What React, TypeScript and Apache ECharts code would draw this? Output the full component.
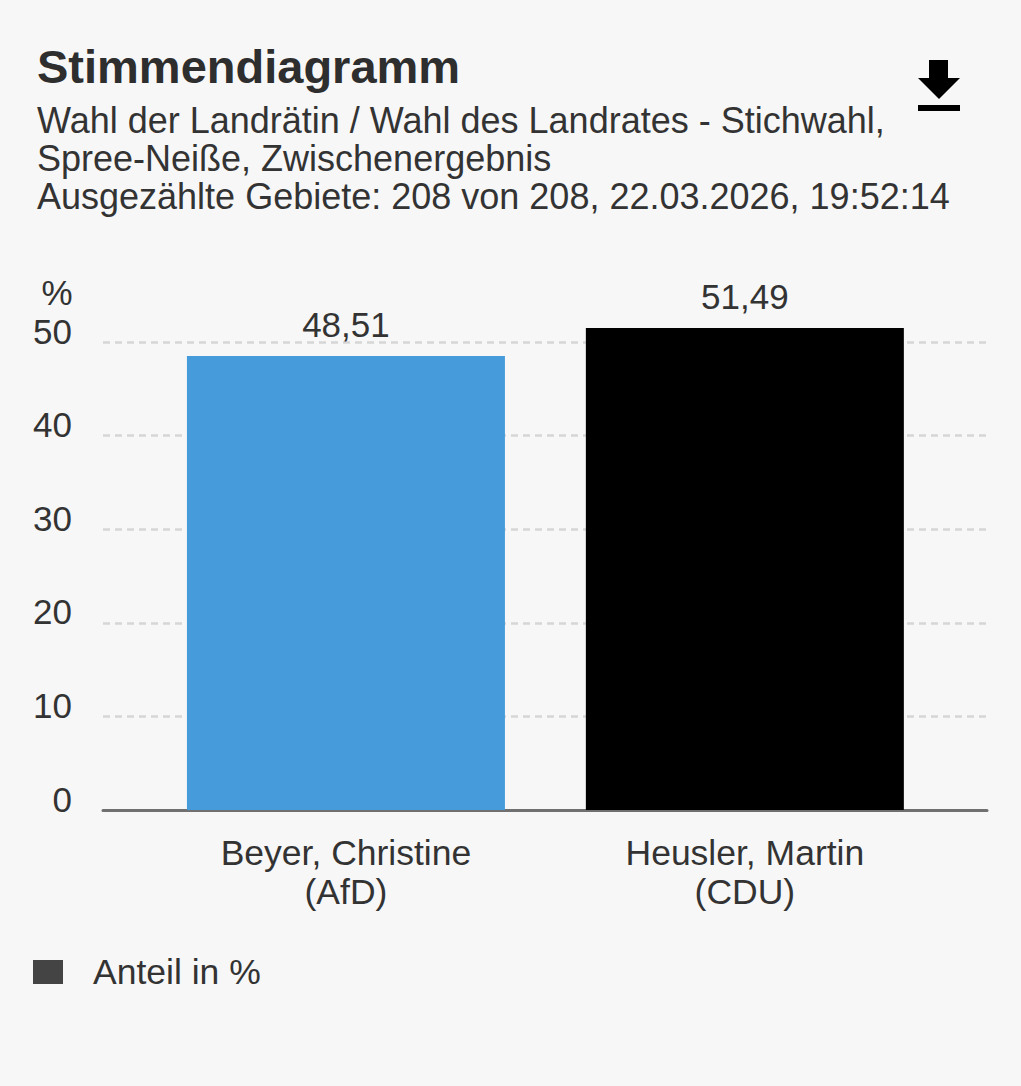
import React, { useEffect, useRef } from "react";
import * as echarts from "echarts";

const categories = ["Beyer, Christine\n(AfD)", "Heusler, Martin\n(CDU)"];
const shares = [48.51, 51.49];
const barColors = ["#469cda", "#000000"];
const yTicks = [0, 10, 20, 30, 40, 50];
const seriesName = "Anteil in %";
const titleText = "Stimmendiagramm";
const subtitleLines = [
  "Wahl der Landrätin / Wahl des Landrates - Stichwahl,",
  "Spree-Neiße, Zwischenergebnis",
  "Ausgezählte Gebiete: 208 von 208, 22.03.2026, 19:52:14",
];

const FONT = "'Liberation Sans', Arial, Helvetica, sans-serif";
const fmt = (v: number) => v.toFixed(2).replace(".", ",");

export default function App() {
  const ref = useRef<HTMLDivElement>(null);
  useEffect(() => {
    if (!ref.current) return;
    const chart = echarts.init(ref.current, null, { renderer: "svg" });
    const option: any = {
      animation: false,
      backgroundColor: "#f7f7f7",
      textStyle: { fontFamily: FONT },
      grid: { left: 103, right: 34, top: 342, bottom: 276, containLabel: false },
      legend: {
        left: 33,
        top: 954,
        padding: 0,
        itemWidth: 30,
        itemHeight: 24,
        icon: "rect",
        data: [seriesName],
        textStyle: { fontSize: 35.5, color: "#333", fontFamily: FONT, padding: [0, 0, 0, 25] },
        selectedMode: false,
      },
      xAxis: {
        type: "value",
        min: -0.609,
        max: 1.607,
        splitLine: { show: false },
        axisTick: { show: false },
        axisLine: { show: true, onZero: false, lineStyle: { color: "#707070", width: 3 } },
        axisLabel: {
          customValues: [0, 1],
          formatter: (v: number) => categories[Math.round(v)] ?? "",
          fontSize: 35.5,
          lineHeight: 39,
          color: "#333",
          margin: 23,
          fontFamily: FONT,
          align: "center",
        },
      },
      yAxis: {
        type: "value",
        min: 0,
        max: 50,
        interval: 10,
        axisLine: { show: false },
        axisTick: { show: false },
        axisLabel: {
          fontSize: 35,
          color: "#333",
          margin: 31,
          fontFamily: FONT,
          verticalAlign: "bottom",
          lineHeight: 22,
          formatter: (v: number) => (yTicks.includes(v) ? String(v) : ""),
        },
        splitLine: {
          show: true,
          lineStyle: { color: "#d6d6d6", width: 2.5, type: [7, 5] },
        },
      },
      series: [
        {
          name: seriesName,
          type: "bar",
          clip: false,
          barWidth: 318,
          itemStyle: { color: "#444444" },
          z: 1,
          data: shares.map((v, i) => ({
            value: [i, v],
            itemStyle: { color: barColors[i] },
          })),
          label: {
            show: true,
            position: "top",
            distance: 14,
            fontSize: 35,
            color: "#333",
            fontFamily: FONT,
            formatter: (p: any) => fmt(p.value[1]),
          },
        },
      ],
      graphic: [
        {
          type: "text",
          x: 37,
          y: 66,
          style: {
            text: titleText,
            font: `bold 47px ${FONT}`,
            fill: "#2e2e2e",
            textVerticalAlign: "middle",
          },
        },
        ...subtitleLines.map((t, i) => ({
          type: "text",
          x: 37,
          y: 120 + i * 38,
          style: {
            text: t,
            font: `36px ${FONT}`,
            fill: "#333",
            textVerticalAlign: "middle",
          },
        })),
        {
          type: "text",
          x: 57,
          y: 292,
          style: {
            text: "%",
            font: `35px ${FONT}`,
            fill: "#333",
            textAlign: "center",
            textVerticalAlign: "middle",
          },
        },
        {
          type: "polygon",
          shape: {
            points: [
              [929, 60],
              [948, 60],
              [948, 78],
              [960, 78],
              [939, 99],
              [918, 78],
              [929, 78],
            ],
          },
          style: { fill: "#000" },
        },
        {
          type: "rect",
          shape: { x: 918, y: 105, width: 42, height: 6 },
          style: { fill: "#000" },
        },
      ],
    };
    chart.setOption(option);
    return () => chart.dispose();
  }, []);
  return (
    <div
      ref={ref}
      style={{ position: "fixed", left: 0, top: 0, width: 1021, height: 1086 }}
    />
  );
}
